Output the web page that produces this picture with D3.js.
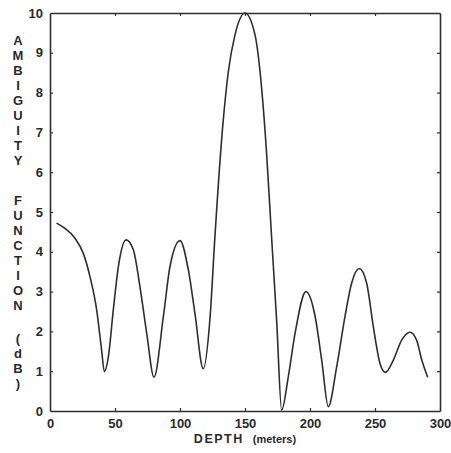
<!DOCTYPE html>
<html>
<head>
<meta charset="utf-8">
<script src="https://cdn.jsdelivr.net/npm/d3@7"></script>
<style>
  body { margin: 0; background: #fff; }
  svg text { font-family: "Liberation Sans", Arial, sans-serif; fill: #2a2a2a; }
</style>
</head>
<body>
<div id="chart"></div>
<script>
const width = 451;
const height = 453;
const margin = {top: 13, right: 11, bottom: 42, left: 50};

// depth (m) and ambiguity function (dB)
const depth = [5, 11.5, 19.2, 25.6, 30.8, 35.9, 39.7, 41.8, 44.9, 48.7, 52.6, 58.5, 64.1, 69.2, 74.4, 80,
    87.2, 92.3, 100, 106.4, 111.5, 117.9, 123, 126.9, 132.1, 137.2, 142.3, 150, 157.7, 162.8, 166.7, 170.5, 174.4, 178.2,
    183.3, 188.5, 196.9, 203.8, 209, 214.1, 220.5, 226.9, 232, 237.9, 243.6, 248.7, 253.8, 258,
    264.1, 270.5, 276.9, 282, 286, 290.5];
const ambiguity = [4.72, 4.59, 4.34, 3.96, 3.37, 2.54, 1.53, 0.99, 1.36, 2.54, 3.63, 4.30, 4.05, 3.12, 1.95, 0.85,
    2.37, 3.63, 4.28, 3.55, 2.45, 1.06, 2.3, 4.4, 6.85, 8.53, 9.45, 10, 9.45, 8.11, 6.43, 4.34, 2.24, 0.02,
    0.86, 1.95, 3.0, 2.4, 1.28, 0.11, 1.11, 2.37, 3.21, 3.58, 3.21, 2.12, 1.20, 0.97,
    1.28, 1.78, 1.98, 1.78, 1.28, 0.85];

const xTicks = [0, 50, 100, 150, 200, 250, 300];
const yTicks = [0, 1, 2, 3, 4, 5, 6, 7, 8, 9, 10];
const yLabelWords = ["AMBIGUITY", "FUNCTION", "(dB)"];

const data = depth.map((d, i) => ({depth: d, value: ambiguity[i]}));

let svg = d3.select("#chart").append("svg")
    .attr("width", width)
    .attr("height", height);

let xScale = d3.scaleLinear()
    .domain([0, 300])
    .range([margin.left, width - margin.right]);

let yScale = d3.scaleLinear()
    .domain([0, 10])
    .range([height - margin.bottom, margin.top]);

const ink = "#2e2e2e";
const tickLen = 3;

// axes: ticks point inward on all four sides
let axisBottomG = svg.append("g")
    .attr("transform", `translate(0,${yScale(0)})`)
    .call(d3.axisBottom(xScale).tickValues(xTicks).tickSizeInner(-tickLen).tickSizeOuter(0).tickPadding(8));
let axisTopG = svg.append("g")
    .attr("transform", `translate(0,${yScale(10)})`)
    .call(d3.axisTop(xScale).tickValues(xTicks.slice(1, -1)).tickSizeInner(-tickLen).tickSizeOuter(0).tickFormat(""));
let axisLeftG = svg.append("g")
    .attr("transform", `translate(${xScale(0)},0)`)
    .call(d3.axisLeft(yScale).tickValues(yTicks).tickSizeInner(-tickLen).tickSizeOuter(0).tickPadding(10));
let axisRightG = svg.append("g")
    .attr("transform", `translate(${xScale(300)},0)`)
    .call(d3.axisRight(yScale).tickValues(yTicks.slice(1, -1)).tickSizeInner(-tickLen).tickSizeOuter(0).tickFormat(""));

[axisBottomG, axisTopG, axisLeftG, axisRightG].forEach(a => {
    a.select(".domain").attr("stroke", ink).attr("stroke-width", 1.6);
    a.selectAll(".tick line").attr("stroke", ink).attr("stroke-width", 1.2);
    a.selectAll(".tick text")
        .style("font-size", "13px")
        .style("font-weight", "bold")
        .attr("fill", ink);
});
// hide the end ticks that sit on the frame corners
axisBottomG.selectAll(".tick line").filter(d => d === 0 || d === 300).remove();
axisLeftG.selectAll(".tick line").filter(d => d === 0 || d === 10).remove();
axisLeftG.selectAll(".tick text").attr("dx", "3px");

// curve
let line = d3.line()
    .x(d => xScale(d.depth))
    .y(d => yScale(d.value))
    .curve(d3.curveMonotoneX);

svg.append("path")
    .datum(data)
    .attr("fill", "none")
    .attr("stroke", ink)
    .attr("stroke-width", 1.6)
    .attr("d", line);

// x label
let xl = svg.append("text")
    .attr("x", 245)
    .attr("y", 443)
    .attr("text-anchor", "middle")
    .style("font-weight", "bold");
xl.append("tspan").style("font-size", "12.5px").attr("letter-spacing", "1.5px").text("DEPTH");
xl.append("tspan").style("font-size", "11px").attr("dx", "9").text("(meters)");

// stacked y label
const wordStarts = [40, 200, 338];
yLabelWords.forEach((w, wi) => {
    w.split("").forEach((ch, i) => {
        svg.append("text")
            .attr("x", 18)
            .attr("y", wordStarts[wi] + i * 15)
            .attr("dy", "0.35em")
            .attr("text-anchor", "middle")
            .style("font-size", "13px")
            .style("font-weight", "bold")
            .text(ch);
    });
});
</script>
</body>
</html>
